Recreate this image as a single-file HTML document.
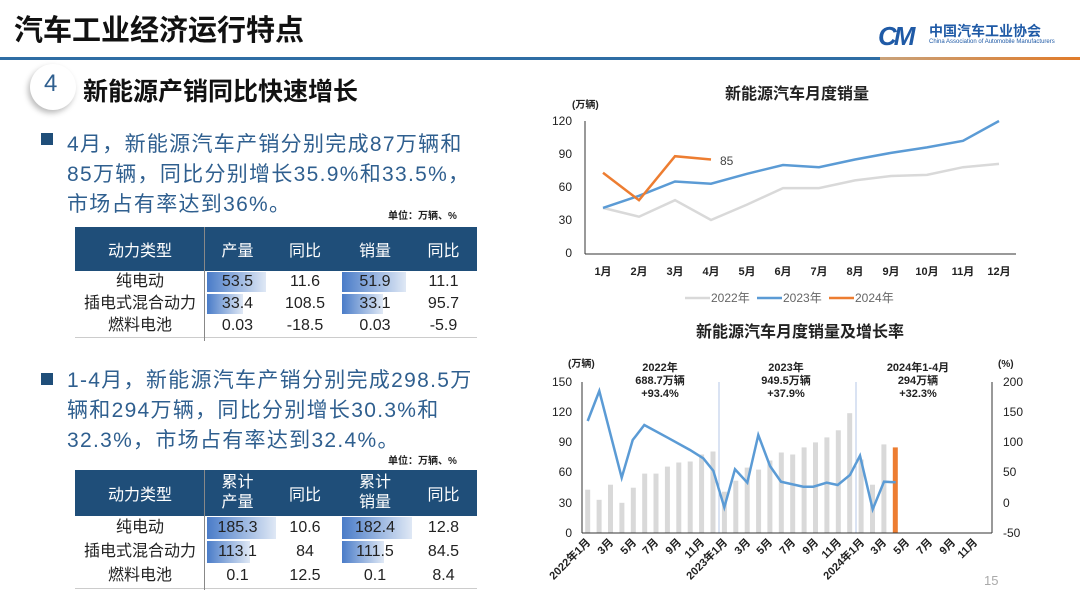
<!DOCTYPE html>
<html><head><meta charset="utf-8"><style>
*{margin:0;padding:0;box-sizing:border-box}
body{width:1080px;height:607px;background:#fff;position:relative;overflow:hidden;font-family:"Liberation Sans","Noto Sans CJK SC",sans-serif}
.a{position:absolute;white-space:nowrap}
.bt{color:#2f5f8f;font-size:21px;line-height:30px;letter-spacing:1.3px}
table{position:absolute;border-collapse:collapse;font-size:16px;color:#222}
th{background:#1f4e79;color:#fff;font-weight:normal;font-size:16px;text-align:center}
td{text-align:center;height:22px;line-height:22px;padding:0;position:relative}
td.b span{position:relative;z-index:1}
td .bar{position:absolute;left:2px;top:1px;bottom:1px;background:linear-gradient(90deg,#4a7cc8,#dfe8f5)}
.sq{position:absolute;width:12px;height:12px;background:#1f4e79}
</style></head><body>
<div class="a" style="left:14px;top:7px;font-size:29px;font-weight:bold;color:#111">汽车工业经济运行特点</div>
<div class="a" style="left:0;top:57px;width:880px;height:3px;background:#2e6da4"></div>
<div class="a" style="left:880px;top:57px;width:200px;height:3px;background:linear-gradient(90deg,#c9a27a,#e07b2a)"></div>
<div class="a" style="left:878px;top:21px;font-size:26px;font-weight:bold;color:#1f5aa6;font-style:italic;letter-spacing:-3px">CM</div>
<div class="a" style="left:929px;top:21px;font-size:14px;font-weight:bold;color:#1f5aa6">中国汽车工业协会</div>
<div class="a" style="left:929px;top:39px;font-size:6px;color:#1f5aa6">China Association of Automobile Manufacturers</div>

<div class="a" style="left:30px;top:64px;width:46px;height:46px;border-radius:50%;background:#fff;box-shadow:-2px 3px 6px #bbb"></div>
<div class="a" style="left:44px;top:70px;font-size:24px;color:#2f5f8f">4</div>
<div class="a" style="left:83px;top:72px;font-size:25px;font-weight:bold;color:#111">新能源产销同比快速增长</div>

<div class="sq" style="left:41px;top:133px"></div>
<div class="a bt" style="left:67px;top:130px">4月，新能源汽车产销分别完成87万辆和<br>85万辆，同比分别增长35.9%和33.5%，<br>市场占有率达到36%。</div>
<div class="a" style="left:388px;top:207px;font-size:10px;font-weight:bold;color:#222">单位：万辆、%</div>
<table style="left:75px;top:227px;width:402px">
<tr style="height:44px"><th style="width:130px">动力类型</th><th style="width:65px">产量</th><th style="width:70px">同比</th><th style="width:70px">销量</th><th>同比</th></tr>
<tr><td>纯电动</td><td class="b"><div class="bar" style="width:59px"></div><span>53.5</span></td><td>11.6</td><td class="b"><div class="bar" style="width:64px"></div><span>51.9</span></td><td>11.1</td></tr>
<tr><td>插电式混合动力</td><td class="b"><div class="bar" style="width:36px"></div><span>33.4</span></td><td>108.5</td><td class="b"><div class="bar" style="width:41px"></div><span>33.1</span></td><td>95.7</td></tr>
<tr style="border-bottom:1px solid #ccc"><td>燃料电池</td><td>0.03</td><td>-18.5</td><td>0.03</td><td>-5.9</td></tr>
</table>
<div class="a" style="left:204px;top:227px;width:1px;height:114px;background:#888"></div>

<div class="sq" style="left:41px;top:373px"></div>
<div class="a bt" style="left:67px;top:366px">1-4月，新能源汽车产销分别完成298.5万<br>辆和294万辆，同比分别增长30.3%和<br>32.3%，市场占有率达到32.4%。</div>
<div class="a" style="left:388px;top:452px;font-size:10px;font-weight:bold;color:#222">单位：万辆、%</div>
<table style="left:75px;top:470px;width:402px">
<tr style="height:46px"><th style="width:130px">动力类型</th><th style="width:65px;line-height:20px">累计<br>产量</th><th style="width:70px">同比</th><th style="width:70px;line-height:20px">累计<br>销量</th><th>同比</th></tr>
<tr style="height:24px"><td>纯电动</td><td class="b"><div class="bar" style="width:69px"></div><span>185.3</span></td><td>10.6</td><td class="b"><div class="bar" style="width:70px"></div><span>182.4</span></td><td>12.8</td></tr>
<tr style="height:24px"><td>插电式混合动力</td><td class="b"><div class="bar" style="width:43px"></div><span>113.1</span></td><td>84</td><td class="b"><div class="bar" style="width:42px"></div><span>111.5</span></td><td>84.5</td></tr>
<tr style="height:24px;border-bottom:1px solid #ccc"><td>燃料电池</td><td>0.1</td><td>12.5</td><td>0.1</td><td>8.4</td></tr>
</table>
<div class="a" style="left:204px;top:470px;width:1px;height:120px;background:#888"></div>

<svg class="a" style="left:0;top:0" width="1080" height="607" font-family="Liberation Sans,Noto Sans CJK SC,sans-serif">
<text x="797" y="99" font-size="16" font-weight="bold" text-anchor="middle" fill="#222">新能源汽车月度销量</text>
<text x="572" y="108" font-size="10" font-weight="bold" fill="#222">(万辆)</text>
<g font-size="12" fill="#222" text-anchor="end">
<text x="572" y="125">120</text><text x="572" y="158">90</text><text x="572" y="191">60</text><text x="572" y="224">30</text><text x="572" y="257">0</text></g>
<line x1="585" y1="121" x2="585" y2="254" stroke="#333"/>
<line x1="585" y1="254" x2="1016" y2="254" stroke="#333"/>
<g font-size="11" font-weight="bold" fill="#222" text-anchor="middle">
<text x="603" y="275">1月</text><text x="639" y="275">2月</text><text x="675" y="275">3月</text><text x="711" y="275">4月</text><text x="747" y="275">5月</text><text x="783" y="275">6月</text><text x="819" y="275">7月</text><text x="855" y="275">8月</text><text x="891" y="275">9月</text><text x="927" y="275">10月</text><text x="963" y="275">11月</text><text x="999" y="275">12月</text></g>
<polyline fill="none" stroke="#d9d9d9" stroke-width="2.5" points="603,207.9 639,216.7 675,200.2 711,220 747,204.6 783,188.1 819,188.1 855,180.4 891,176 927,174.9 963,167.2 999,163.9"/>
<polyline fill="none" stroke="#5b9bd5" stroke-width="2.5" points="603,207.9 639,195.8 675,181.5 711,183.7 747,173.8 783,165 819,167.2 855,159.5 891,152.9 927,147.4 963,140.8 999,121"/>
<polyline fill="none" stroke="#ed7d31" stroke-width="2.5" points="603,172.7 639,200.2 675,156.2 711,159.5"/>
<text x="720" y="165" font-size="12" fill="#444">85</text>
<g font-size="12" fill="#666">
<line x1="685" y1="298" x2="710" y2="298" stroke="#d9d9d9" stroke-width="2.5"/><text x="711" y="302">2022年</text>
<line x1="757" y1="298" x2="782" y2="298" stroke="#5b9bd5" stroke-width="2.5"/><text x="783" y="302">2023年</text>
<line x1="829" y1="298" x2="854" y2="298" stroke="#ed7d31" stroke-width="2.5"/><text x="855" y="302">2024年</text></g>

<text x="800" y="337" font-size="16" font-weight="bold" text-anchor="middle" fill="#222">新能源汽车月度销量及增长率</text>
<text x="568" y="367" font-size="10" font-weight="bold" fill="#222">(万辆)</text>
<text x="998" y="367" font-size="10" font-weight="bold" fill="#222">(%)</text>
<g font-size="12" fill="#222" text-anchor="end">
<text x="572" y="386">150</text><text x="572" y="416">120</text><text x="572" y="446">90</text><text x="572" y="476">60</text><text x="572" y="507">30</text><text x="572" y="537">0</text></g>
<g font-size="12" fill="#222">
<text x="1003" y="386">200</text><text x="1003" y="416">150</text><text x="1003" y="446">100</text><text x="1003" y="476">50</text><text x="1003" y="507">0</text><text x="1003" y="537">-50</text></g>
<g font-size="11" font-weight="bold" fill="#222" text-anchor="middle">
<text x="660" y="371">2022年</text><text x="660" y="384">688.7万辆</text><text x="660" y="397">+93.4%</text>
<text x="786" y="371">2023年</text><text x="786" y="384">949.5万辆</text><text x="786" y="397">+37.9%</text>
<text x="918" y="371">2024年1-4月</text><text x="918" y="384">294万辆</text><text x="918" y="397">+32.3%</text></g>
<line x1="719" y1="382" x2="719" y2="533" stroke="#b4c7e7"/>
<line x1="856" y1="382" x2="856" y2="533" stroke="#b4c7e7"/>
<g fill="#d9d9d9">
<rect x="585.2" y="489.7" width="5" height="43.3"/><rect x="596.6" y="499.8" width="5" height="33.2"/><rect x="608" y="484.7" width="5" height="48.3"/><rect x="619.4" y="502.8" width="5" height="30.2"/><rect x="630.8" y="487.7" width="5" height="45.3"/><rect x="642.2" y="473.6" width="5" height="59.4"/><rect x="653.5" y="473.6" width="5" height="59.4"/><rect x="664.9" y="466.6" width="5" height="66.4"/><rect x="676.3" y="462.5" width="5" height="70.5"/><rect x="687.7" y="461.5" width="5" height="71.5"/><rect x="699.1" y="454.5" width="5" height="78.5"/><rect x="710.5" y="451.5" width="5" height="81.5"/>
<rect x="721.9" y="491.7" width="5" height="41.3"/><rect x="733.3" y="480.7" width="5" height="52.3"/><rect x="744.7" y="467.6" width="5" height="65.4"/><rect x="756.1" y="469.6" width="5" height="63.4"/><rect x="767.4" y="460.5" width="5" height="72.5"/><rect x="778.8" y="452.5" width="5" height="80.5"/><rect x="790.2" y="454.5" width="5" height="78.5"/><rect x="801.6" y="447.4" width="5" height="85.6"/><rect x="813" y="442.4" width="5" height="90.6"/><rect x="824.4" y="437.4" width="5" height="95.6"/><rect x="835.8" y="430.3" width="5" height="102.7"/><rect x="847.2" y="413.2" width="5" height="119.8"/>
<rect x="858.6" y="459.5" width="5" height="73.5"/><rect x="870" y="484.7" width="5" height="48.3"/><rect x="881.4" y="444.4" width="5" height="88.6"/></g>
<rect x="892.8" y="447.4" width="5" height="85.6" fill="#ed7d31"/>
<line x1="582" y1="382" x2="582" y2="533" stroke="#333"/>
<line x1="992" y1="382" x2="992" y2="533" stroke="#333"/>
<line x1="582" y1="533" x2="992" y2="533" stroke="#333"/>
<polyline fill="none" stroke="#5b9bd5" stroke-width="2.5" points="587.7,421 599.3,391 621.7,477.7 632.7,440 644.3,425 667.7,437.7 690,450 703.3,458.3 713.3,470.7 724.3,507.3 735,469.3 747.3,482.7 758.3,435 770,466 781,481.7 803.3,486.7 813.3,486.7 826.7,482.7 837.7,485 850,475 860,455.7 872.7,509.3 884,481.7 895.7,482.3"/>
<g font-size="11" font-weight="bold" fill="#222" text-anchor="end">
<text transform="translate(591,543) rotate(-45)">2022年1月</text>
<text transform="translate(614,543) rotate(-45)">3月</text>
<text transform="translate(637,543) rotate(-45)">5月</text>
<text transform="translate(659,543) rotate(-45)">7月</text>
<text transform="translate(682,543) rotate(-45)">9月</text>
<text transform="translate(705,543) rotate(-45)">11月</text>
<text transform="translate(728,543) rotate(-45)">2023年1月</text>
<text transform="translate(751,543) rotate(-45)">3月</text>
<text transform="translate(773,543) rotate(-45)">5月</text>
<text transform="translate(796,543) rotate(-45)">7月</text>
<text transform="translate(819,543) rotate(-45)">9月</text>
<text transform="translate(842,543) rotate(-45)">11月</text>
<text transform="translate(865,543) rotate(-45)">2024年1月</text>
<text transform="translate(887,543) rotate(-45)">3月</text>
<text transform="translate(910,543) rotate(-45)">5月</text>
<text transform="translate(933,543) rotate(-45)">7月</text>
<text transform="translate(956,543) rotate(-45)">9月</text>
<text transform="translate(978,543) rotate(-45)">11月</text></g>
<text x="984" y="585" font-size="13" fill="#aaa">15</text>
</svg>
</body></html>
